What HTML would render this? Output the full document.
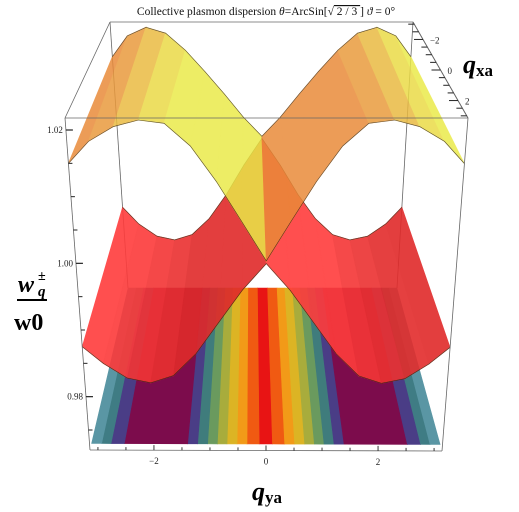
<!DOCTYPE html>
<html><head><meta charset="utf-8">
<style>
html,body{margin:0;padding:0;background:#fff;}
svg{display:block;font-family:"Liberation Serif",serif;}
</style></head>
<body>
<svg id="chart" width="519" height="512" viewBox="0 0 519 512" xmlns="http://www.w3.org/2000/svg">
<text x="266" y="15" font-size="11.5" text-anchor="middle" fill="#111">Collective plasmon dispersion <tspan font-style="italic">θ</tspan>=ArcSin[√<tspan text-decoration="overline"> 2 / 3 </tspan>] <tspan font-style="italic">ϑ</tspan> = 0°</text>
<g id="floor"></g>
<g id="box-back"></g>
<g id="lower" opacity="0.9"></g>
<g id="upper" opacity="0.84"></g>
<g id="box-front"></g>
<g id="axes"></g>
<text x="18" y="292" font-size="24" font-weight="bold" font-style="italic">w</text>
<text x="38" y="296" font-size="15" font-weight="bold" font-style="italic">q</text>
<text x="38" y="280" font-size="14" font-weight="bold">±</text>
<line x1="17" y1="300" x2="47" y2="300" stroke="#000" stroke-width="2"/>
<text x="14" y="330" font-size="24" font-weight="bold">w0</text>
<text x="252" y="500" font-size="26" font-weight="bold" font-style="italic">q<tspan font-size="17" font-style="normal" dy="3">ya</tspan></text>
<text x="463" y="73" font-size="26" font-weight="bold" font-style="italic">q<tspan font-size="17" font-style="normal" dy="3">xa</tspan></text>
</svg>
<script>
// ---- data ----
const qySamples = [-3.14,-2.8,-2.4,-2.0,-1.6,-1.2,-0.8,-0.4,0,0.4,0.8,1.2,1.6,2.0,2.4,2.8,3.14];
const upperFront = [1.0150,1.0183,1.0205,1.0215,1.0210,1.0176,1.0123,1.0063,1.0004,1.0063,1.0123,1.0176,1.0210,1.0215,1.0205,1.0183,1.0150];
const upperBack  = [1.0153,1.0192,1.0208,1.0197,1.0165,1.0125,1.0083,1.0040,1.0004,1.0040,1.0083,1.0125,1.0165,1.0197,1.0208,1.0192,1.0153];
const lowerFront = [0.9875,0.9850,0.9828,0.9821,0.9832,0.9865,0.9912,0.9960,1.0000,0.9960,0.9912,0.9865,0.9832,0.9821,0.9828,0.9850,0.9875];
const lowerBack  = [0.9871,0.9840,0.9817,0.9810,0.9820,0.9850,0.9895,0.9950,1.0000,0.9950,0.9895,0.9850,0.9820,0.9810,0.9817,0.9840,0.9871];
const floorBounds = [0.12,0.34,0.52,0.70,0.875,1.05,1.23,1.41,2.55,2.79,2.96,3.14];
const floorColors = ["#e81414","#f05a12","#f29a18","#dcb424","#a8ac3c","#6a9a5e","#3f7c7c","#4a3d86","#7c0c4c","#4a3d86","#3f7c84","#5a96a4"];
const zTicks = [0.98,1.00,1.02];
const zTickLabels = ["0.98","1.00","1.02"];
const zMinor = [0.975,0.985,0.99,0.995,1.005,1.01,1.015];
const yTicks = [-2,0,2];
const yTickLabels = ["\u22122","0","2"];
const xTicks = [-2,0,2];
const xTickLabels = ["\u22122","0","2"];

// ---- projection ----
const ZMIN=0.972, ZMAX=1.0218, QMAX=Math.PI;
const C = {
  bl0:[128,288], br0:[397,288], bl1:[110,22], br1:[413,22],
  fl0:[90,450],  fr0:[442,451], fl1:[65,118], fr1:[468,118]
};
function lerp(a,b,t){return [a[0]+(b[0]-a[0])*t, a[1]+(b[1]-a[1])*t];}
function P(s,d,h){
  const b0=lerp(C.bl0,C.br0,s), b1=lerp(C.bl1,C.br1,s);
  const f0=lerp(C.fl0,C.fr0,s), f1=lerp(C.fl1,C.fr1,s);
  const b=lerp(b0,b1,h), f=lerp(f0,f1,h);
  return lerp(b,f,d);
}
function sOf(qy){return (qy+QMAX)/(2*QMAX);}
function hOf(z){return (z-ZMIN)/(ZMAX-ZMIN);}
function proj(qy,d,z){return P(sOf(qy),d,hOf(z));}
const NS="http://www.w3.org/2000/svg";
function mk(tag,parent,attrs){const e=document.createElementNS(NS,tag);for(const k in attrs)e.setAttribute(k,attrs[k]);parent.appendChild(e);return e;}
function pts(a){return a.map(p=>p[0].toFixed(1)+","+p[1].toFixed(1)).join(" ");}

// ---- floor ----
const floorG=document.getElementById('floor');
const bands=[];
bands.push([-floorBounds[0],floorBounds[0],floorColors[0]]);
for(let i=1;i<floorBounds.length;i++){
  bands.push([floorBounds[i-1],floorBounds[i],floorColors[i]]);
  bands.push([-floorBounds[i],-floorBounds[i-1],floorColors[i]]);
}
bands.forEach(b=>{
  const poly=[proj(b[0],0,ZMIN),proj(b[1],0,ZMIN),proj(b[1],0.96,ZMIN),proj(b[0],0.96,ZMIN)];
  const el=mk('polygon',floorG,{points:pts(poly),fill:b[2],stroke:b[2],'stroke-width':0.6});
  
  
});

// ---- box ----
function edge(g,a,b,name){
  const el=mk('line',g,{x1:a[0],y1:a[1],x2:b[0],y2:b[1],stroke:'#666','stroke-width':0.8});
  
  
}
const bb=document.getElementById('box-back');
edge(bb,C.bl0,C.bl1,'box-edge-back-left');
edge(bb,C.br0,C.br1,'box-edge-back-right');
edge(bb,C.bl1,C.br1,'box-edge-top-back');
const bf=document.getElementById('box-front');
edge(bf,C.bl1,C.fl1,'box-edge-top-left');
edge(bf,C.br1,C.fr1,'box-edge-top-right');
edge(bf,C.fl1,C.fr1,'box-edge-top-front');
edge(bf,C.fr0,C.fr1,'box-edge-front-right');

// ---- surfaces ----
function mix(c1,c2,t){const a=parseInt(c1.slice(1),16),b=parseInt(c2.slice(1),16);
  const r=Math.round(((a>>16)&255)*(1-t)+((b>>16)&255)*t),g=Math.round(((a>>8)&255)*(1-t)+((b>>8)&255)*t),bl=Math.round((a&255)*(1-t)+(b&255)*t);
  return "rgb("+r+","+g+","+bl+")";}
function surface(gid,front,back,cUp,cDown,name){
  const g=document.getElementById(gid);
  for(let i=0;i<qySamples.length-1;i++){
    const q0=qySamples[i],q1=qySamples[i+1];
    const poly=[proj(q0,0,back[i]),proj(q1,0,back[i+1]),proj(q1,1,front[i+1]),proj(q0,1,front[i])];
    const slope=(front[i+1]-front[i])+(back[i+1]-back[i]);
    const t=Math.max(0,Math.min(1,0.5-slope*90));
    const col=mix(cUp,cDown,t);
    const el=mk('polygon',g,{points:pts(poly),fill:col,stroke:col,'stroke-width':0.8});
    
    
  }
  const fr=qySamples.map((q,i)=>proj(q,1,front[i])), bk=qySamples.map((q,i)=>proj(q,0,back[i]));
  const l1=mk('polyline',g,{points:pts(fr),fill:'none',stroke:'#3a2a10','stroke-width':0.6});
  
  
  const l2=mk('polyline',g,{points:pts(bk),fill:'none',stroke:'#3a2a10','stroke-width':0.6});
  
  
}
surface('lower',lowerFront,lowerBack,'#e02a2a','#ff3c3c','lower-surface');
surface('upper',upperFront,upperBack,'#e98a38','#eaea48','upper-surface');

// ---- axes ----
const ax=document.getElementById('axes');
edge(ax,C.fl0,C.fl1,'z-axis-line');
edge(ax,C.fl0,C.fr0,'qy-axis-line');
edge(ax,C.br1,C.fr1,'qx-axis-line');
function tick(a,dx,dy,name,w){
  const el=mk('line',ax,{x1:a[0],y1:a[1],x2:a[0]+dx,y2:a[1]+dy,stroke:'#222','stroke-width':w});
  
  
}
function label(x,y,txt,anchor,name){
  const el=mk('text',ax,{x:x,y:y,'font-size':9,'text-anchor':anchor,fill:'#222'});
  el.textContent=txt;
  
  
}
zTicks.forEach((z,i)=>{const p=proj(-QMAX,1,z);tick(p,7,0,'z-tick',1.2);label(p[0]-3,p[1]+3,zTickLabels[i],'end','z-tick-label');});
zMinor.forEach(z=>{const p=proj(-QMAX,1,z);tick(p,4,0,'z-minor-tick',1);});
for(let v=-3;v<=3.01;v+=0.5){const p=proj(v,1,ZMIN);tick(p,0,Math.abs(v%2)<0.01?-5:-3,'qy-tick',0.9);}
yTicks.forEach((v,i)=>{const p=proj(v,1,ZMIN);label(p[0],p[1]+14,yTickLabels[i],'middle','qy-tick-label');});
for(let v=-3;v<=3.01;v+=0.5){const p=P(1,sOf(v),1);tick(p,Math.abs(v%2)<0.01?-9:-6,0,'qx-tick',1);}
xTicks.forEach((v,i)=>{const p=P(1,sOf(v),1);label(p[0]+7,p[1]+4,xTickLabels[i],'start','qx-tick-label');});
</script>
</body></html>
